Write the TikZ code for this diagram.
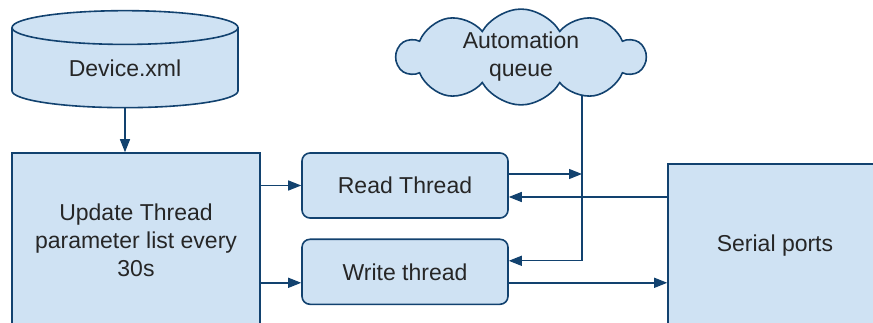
\documentclass[tikz,border=0pt]{standalone}
\usepackage{fontspec}
\setmainfont{Liberation Sans}
\usepackage{tikz}
\usetikzlibrary{positioning,arrows.meta,shapes.geometric,shapes.symbols,backgrounds,calc}
\definecolor{boxfill}{HTML}{CFE2F3}
\definecolor{boxtop}{HTML}{E3EEF8}
\definecolor{boxline}{HTML}{12426F}

\begin{document}
\begin{tikzpicture}[x=1pt, y=-1pt,
    every node/.style={font=\fontsize{23}{28}\selectfont, text=black!85},
    block/.style={draw=boxline, fill=boxfill, line width=1.6pt, align=center, inner sep=0pt},
    thread/.style={block, rounded corners=8pt, minimum width=206pt, minimum height=65pt},
    arrow/.style={-{Triangle[length=13pt,width=10pt]}, draw=boxline, line width=1.4pt},
]
\useasboundingbox (0,0) rectangle (873,323);
\clip (0,0) rectangle (873,323);

\node[block, cylinder, shape border rotate=90, aspect=0.3, minimum width=226pt, minimum height=97pt,
    cylinder uses custom fill, cylinder body fill=boxfill, cylinder end fill=boxtop] (device) at (125,68) {Device.xml};
\node[block, cloud, cloud puffs=10, cloud puff arc=120, cloud ignores aspect,
    minimum width=248pt, minimum height=89pt] (queue) at (521,57) {Automation\\queue};
\node[block, minimum width=248pt, minimum height=174pt] (update) at (136,240) {Update Thread\\parameter list every\\30s};
\node[thread] (read) at (405,185.5) {Read Thread};
\node[thread] (write) at (405,271.8) {Write thread};
\node[block, minimum width=214pt, minimum height=164pt] (serial) at (775,246) {Serial ports};

% ports on the thread boxes
\coordinate (rout) at ([yshift=11.5pt]read.east);
\coordinate (rin) at ([yshift=-11.5pt]read.east);
\coordinate (win) at ([yshift=11pt]write.east);
\coordinate (wout) at ([yshift=-11pt]write.east);
\coordinate (wport) at ([yshift=-11pt]write.west);
\coordinate (qjoin) at (582,0);

\draw[arrow] (device.south) -- (device.south |- update.north);
\draw[arrow] (update.east |- read.west) -- (read.west);
\draw[arrow] (update.east |- wport) -- (wport);
\begin{scope}[on background layer]
\draw[arrow] (queue.center -| qjoin) |- (win);
\end{scope}
\draw[arrow] (rout) -- (rout -| qjoin);
\draw[arrow] (serial.west |- rin) -- (rin);
\draw[arrow] (wout) -- (wout -| serial.west);
\end{tikzpicture}
\end{document}
